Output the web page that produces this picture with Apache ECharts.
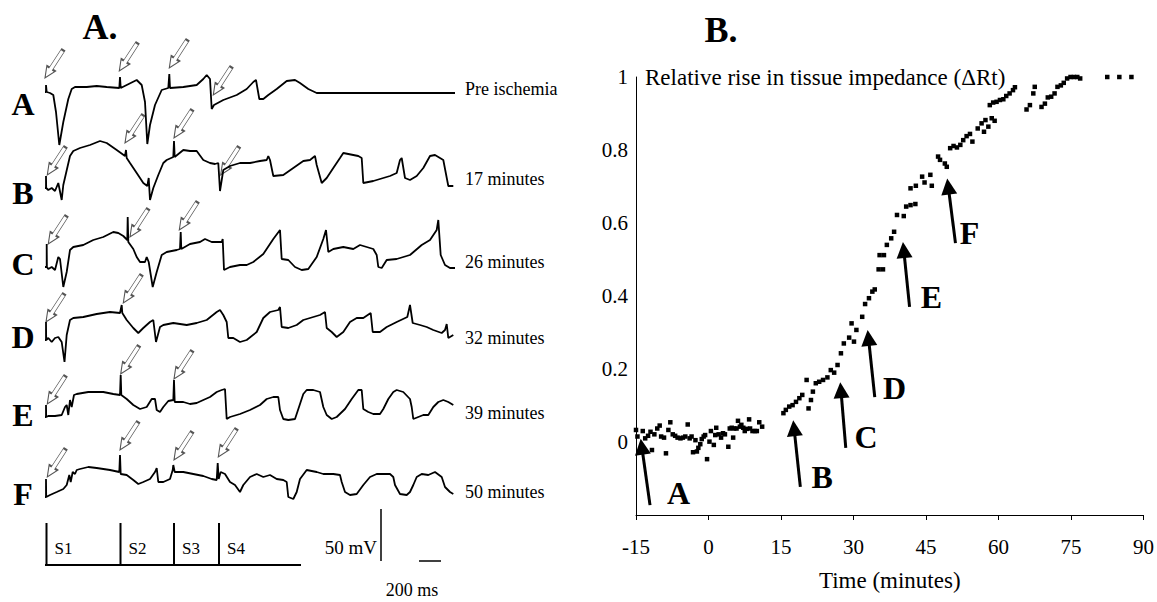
<!DOCTYPE html>
<html>
<head>
<meta charset="utf-8">
<script src="https://cdn.jsdelivr.net/npm/echarts@6.0.0/dist/echarts.min.js"></script>
<style>
  html, body { margin: 0; background: #fff; }
  #chart { width: 1157px; height: 602px; }
</style>
</head>
<body>
<div id="chart"></div>
<script>
// ---- Panel A: electrograms, [ms, mV] relative to each trace's baseline ----
const traceA = [[50,0],[60,0],[60,7],[67,0],[100,-1],[133,-3],[160,-20],[193,-53],[233,-30],[283,-7],[317,3],[350,5],[467,5],[567,6],[667,5],[793,4],[800,15],[807,4],[867,7],[967,12],[1017,7],[1050,-10],[1073,-52],[1100,-33],[1150,-13],[1217,2],[1283,4],[1293,18],[1300,4],[1433,5],[1567,7],[1633,13],[1667,17],[1700,13],[1717,-17],[1740,-13],[1833,-8],[1967,-3],[2067,3],[2133,10],[2160,12],[2193,-7],[2233,-7],[2283,-3],[2367,3],[2467,11],[2550,12],[2600,9],[2683,3],[2767,-1],[4150,-1]];
const traceB = [[50,0],[60,0],[60,12],[62,0],[83,-2],[117,0],[150,-3],[183,5],[217,-12],[233,3],[300,32],[333,37],[400,40],[500,43],[600,47],[667,45],[767,38],[850,32],[860,38],[867,30],[900,25],[967,15],[1033,5],[1073,2],[1087,10],[1100,-12],[1133,0],[1183,13],[1233,25],[1267,28],[1333,31],[1340,47],[1347,31],[1433,38],[1500,37],[1567,37],[1633,28],[1700,25],[1750,24],[1783,25],[1800,-3],[1833,18],[1900,22],[2000,25],[2100,25],[2200,27],[2267,28],[2283,32],[2300,28],[2333,12],[2433,13],[2533,20],[2633,27],[2700,28],[2750,32],[2767,23],[2817,5],[2867,10],[2933,20],[3000,30],[3033,35],[3183,32],[3217,30],[3233,5],[3333,7],[3433,10],[3500,12],[3567,15],[3600,28],[3617,30],[3650,10],[3700,8],[3767,12],[3833,20],[3900,32],[3950,33],[4033,28],[4083,2],[4133,2]];
const traceC = [[50,0],[67,0],[67,23],[69,0],[83,-2],[117,0],[150,-3],[183,10],[200,8],[233,-20],[267,-5],[300,17],[333,20],[433,22],[533,27],[633,30],[733,35],[783,34],[833,31],[873,27],[877,50],[883,25],[933,18],[967,10],[1000,5],[1050,5],[1067,10],[1087,5],[1127,-20],[1167,-5],[1217,12],[1267,15],[1367,17],[1400,18],[1407,35],[1413,18],[1500,23],[1600,25],[1650,28],[1717,25],[1817,25],[1827,28],[1840,-3],[1900,0],[2000,2],[2067,2],[2133,5],[2233,13],[2333,28],[2400,37],[2417,8],[2483,7],[2550,0],[2617,-3],[2683,-2],[2767,10],[2833,28],[2860,37],[2883,15],[2933,18],[3033,20],[3133,18],[3200,22],[3267,20],[3333,18],[3367,12],[3383,0],[3417,-1],[3467,7],[3567,8],[3700,12],[3817,22],[3900,27],[3967,37],[3983,47],[4007,12],[4050,2],[4100,-1],[4150,-1]];
const traceD = [[50,0],[60,0],[60,18],[62,0],[83,2],[117,-2],[150,2],[183,3],[217,-2],[245,-22],[267,5],[300,20],[333,22],[433,23],[567,26],[700,28],[800,27],[817,35],[823,27],[867,20],[933,12],[983,7],[1033,12],[1100,18],[1133,20],[1160,-2],[1200,13],[1233,15],[1333,17],[1467,15],[1567,17],[1667,20],[1767,28],[1800,30],[1833,25],[1867,18],[1883,2],[1933,2],[2000,-2],[2067,0],[2167,8],[2233,22],[2300,28],[2383,30],[2400,33],[2417,13],[2483,12],[2567,15],[2633,20],[2733,23],[2800,25],[2850,28],[2867,12],[2917,8],[2967,3],[3033,8],[3100,18],[3167,22],[3233,22],[3307,27],[3327,8],[3400,8],[3467,13],[3567,18],[3673,23],[3700,35],[3727,17],[3800,15],[3867,13],[3933,10],[4017,7],[4050,10],[4067,16],[4083,2],[4133,5]];
const traceE = [[50,0],[60,0],[60,12],[62,0],[83,1],[150,1],[217,2],[250,10],[267,12],[283,2],[300,17],[317,10],[340,22],[367,23],[483,25],[633,25],[733,23],[800,22],[807,42],[813,22],[867,18],[933,12],[1000,8],[1067,10],[1117,18],[1150,18],[1167,7],[1200,5],[1233,10],[1283,16],[1333,17],[1340,37],[1347,15],[1433,15],[1500,13],[1567,14],[1633,17],[1700,20],[1767,25],[1817,27],[1850,28],[1867,-2],[1900,0],[2000,3],[2100,7],[2200,12],[2267,18],[2333,20],[2383,20],[2400,7],[2433,-2],[2483,-3],[2550,-2],[2600,13],[2633,23],[2667,27],[2733,27],[2800,25],[2833,10],[2867,2],[2917,-2],[2967,0],[3050,8],[3117,18],[3183,27],[3217,27],[3233,8],[3283,5],[3333,3],[3400,3],[3433,8],[3483,18],[3533,25],[3567,27],[3633,25],[3700,18],[3717,10],[3733,-2],[3783,0],[3833,2],[3883,2],[3933,10],[3983,15],[4033,17],[4083,15],[4133,12]];
const traceF = [[50,0],[60,0],[60,18],[62,0],[100,2],[167,5],[233,8],[267,12],[293,22],[307,15],[327,25],[350,23],[367,27],[400,28],[483,30],[567,29],[700,27],[793,25],[800,42],[807,23],[867,22],[933,17],[983,13],[1033,15],[1100,18],[1150,25],[1167,29],[1183,15],[1233,15],[1300,18],[1327,27],[1333,32],[1347,25],[1433,25],[1533,23],[1633,21],[1717,18],[1767,17],[1777,34],[1787,18],[1807,25],[1850,23],[1900,15],[1950,12],[2000,5],[2033,12],[2100,20],[2167,23],[2233,20],[2300,22],[2367,18],[2433,17],[2467,15],[2483,0],[2533,-2],[2567,5],[2600,18],[2667,27],[2767,25],[2833,23],[2933,23],[3000,22],[3017,15],[3050,5],[3100,2],[3167,3],[3233,12],[3300,20],[3367,23],[3433,23],[3500,23],[3533,20],[3550,12],[3600,3],[3667,2],[3700,5],[3733,12],[3767,20],[3817,23],[3883,22],[3950,25],[4017,20],[4050,10],[4100,5],[4133,3]];

// open arrows marking stimulus artefacts (tip position, [ms, mV])
const arrowsA = [[50,14],[793,21],[1293,24],[1733,-3]];
const arrowsB = [[73,13],[850,45],[1340,50],[1807,13]];
const arrowsC = [[83,23],[900,30],[1393,37]];
const arrowsD = [[60,18],[833,37]];
const arrowsE = [[73,13],[807,43],[1340,38]];
const arrowsF = [[73,20],[800,47],[1340,37],[1783,40]];

const traceLetters = ['A', 'B', 'C', 'D', 'E', 'F'];
const traceTimes = ['Pre ischemia', '17 minutes', '26 minutes', '32 minutes', '39 minutes', '50 minutes'];

// stimulus channel
const stimTimes = [65, 805, 1340, 1790];
const stimLabels = ['S1', 'S2', 'S3', 'S4'];
const stimHeight = 42;
const stimStart = 50;
const stimEnd = 2610;

// ---- Panel B: relative rise in tissue impedance ----
const timeMin = [-15.0,-14.7,-13.6,-13.1,-12.5,-12.0,-11.7,-11.2,-10.6,-10.1,-9.8,-9.2,-8.8,-8.3,-7.9,-7.4,-6.9,-6.4,-5.8,-5.3,-4.8,-4.3,-3.9,-3.5,-3.2,-2.7,-2.4,-2.1,-1.7,-1.4,-1.0,-0.7,-0.3,0.2,0.5,1.1,1.4,1.6,2.1,2.6,3.0,3.4,4.1,4.4,4.8,5.1,5.3,5.8,6.1,6.5,6.8,7.2,7.5,7.9,8.4,8.6,9.1,9.6,10.0,10.5,11.1,
  15.5,16.0,16.7,17.4,18.1,18.8,19.4,20.3,20.7,21.2,21.6,22.2,22.9,23.7,24.6,25.3,26.0,26.7,27.4,28.0,29.1,30.1,29.6,30.6,31.8,32.4,33.2,33.9,34.4,35.2,36.1,35.4,36.3,36.9,37.8,38.4,39.0,40.4,40.9,41.8,42.8,
  41.8,42.9,44.2,44.7,45.9,46.2,47.5,47.9,48.9,49.3,50.0,50.7,51.4,52.1,52.7,53.4,54.1,54.6,55.7,56.5,57.0,57.3,57.9,58.6,59.2,58.2,58.9,59.6,60.3,61.0,61.6,62.3,63.0,63.4,
  65.8,66.5,67.2,67.5,68.9,69.6,70.2,70.9,71.6,72.2,72.9,73.5,74.2,74.9,75.6,76.3,76.9,82.5,85.0,87.5];
const deltaRt = [0.033,0.015,0.030,0.010,0.017,0.028,-0.022,0.021,0.037,0.045,0.015,0.012,-0.031,0.033,0.054,0.021,0.017,0.012,0.010,0.012,0.015,0.048,0.010,0.015,-0.028,0.005,-0.026,-0.016,-0.006,0.008,0.015,0.019,-0.047,0.001,0.030,-0.008,0.019,0.039,0.021,0.012,0.024,0.021,-0.013,0.037,0.039,0.012,0.037,0.037,0.058,0.042,0.047,0.039,0.030,0.036,0.062,0.037,0.030,0.030,0.030,0.054,0.042,
  0.079,0.088,0.097,0.101,0.110,0.120,0.129,0.170,0.092,0.115,0.138,0.161,0.165,0.170,0.177,0.197,0.190,0.211,0.243,0.270,0.286,0.275,0.325,0.307,0.343,0.378,0.394,0.412,0.418,0.473,0.473,0.512,0.512,0.540,0.558,0.576,0.622,0.619,0.645,0.649,0.652,
  0.695,0.702,0.727,0.711,0.732,0.702,0.782,0.773,0.763,0.754,0.805,0.811,0.807,0.814,0.827,0.838,0.844,0.823,0.859,0.873,0.850,0.882,0.864,0.887,0.880,0.923,0.930,0.932,0.937,0.939,0.948,0.955,0.964,0.972,
  0.911,0.923,0.955,0.973,0.918,0.927,0.944,0.946,0.955,0.973,0.977,0.984,0.996,1.0,1.0,1.0,0.996,1.0,1.0,1.0];

// solid arrows with letters (time, value)
const arrowNames = ['A', 'B', 'C', 'D', 'E', 'F'];
const arrowTips = [[-13.8,-0.013],[17.7,0.038],[27.4,0.142],[33.1,0.285],[40.4,0.526],[49.6,0.70]];
const arrowTails = [[-12.1,-0.173],[19.0,-0.123],[28.4,-0.016],[34.4,0.123],[41.6,0.37],[51.1,0.545]];
const arrowLabelAt = [[-6.2,-0.14],[23.5,-0.096],[32.6,0.014],[38.5,0.148],[46.1,0.397],[54.0,0.573]];

// ---- layout ----
const SERIF = '"Liberation Serif", "Times New Roman", serif';
const traces = [traceA, traceB, traceC, traceD, traceE, traceF];
const traceArrows = [arrowsA, arrowsB, arrowsC, arrowsD, arrowsE, arrowsF];
const baselinePx = [92, 188, 267, 340, 417, 497];
const letterY = [104, 193, 264, 337, 415, 494];
const timeLabelY = [89, 179, 262, 338, 413, 492];
const STIM = 6, PANEL_B = 7;

const openArrow = 'path://M3,0 L7,0 L7,22 L10,22 L5,33 L0,22 L3,22 Z';

const grids = [], xAxes = [], yAxes = [], series = [];
traces.forEach((tr, i) => {
  grids.push({ left: 40, width: 420, top: baselinePx[i] - 60, height: 120 });
  xAxes.push({ type: 'value', gridIndex: i, min: 0, max: 4200, show: false });
  yAxes.push({ type: 'value', gridIndex: i, min: -60, max: 60, show: false });
  series.push({
    type: 'line', xAxisIndex: i, yAxisIndex: i, data: tr, showSymbol: false,
    clip: false, lineStyle: { color: '#000', width: 1.8 }, silent: true
  });
  series.push({
    type: 'scatter', xAxisIndex: i, yAxisIndex: i, data: traceArrows[i],
    symbol: openArrow, symbolSize: [10, 33], symbolRotate: -33, symbolOffset: [9, -14],
    clip: false, silent: true,
    itemStyle: { color: '#fff', borderColor: '#555', borderWidth: 1.2, opacity: 1 }
  });
});

// stimulus channel
grids.push({ left: 40, width: 420, top: 500, height: 70 });
xAxes.push({ type: 'value', gridIndex: STIM, min: 0, max: 4200, show: false });
yAxes.push({ type: 'value', gridIndex: STIM, min: -5, max: 65, show: false });
const stimLine = [[stimStart, 0]];
stimTimes.forEach(s => stimLine.push([s, 0], [s, stimHeight], [s, 0]));
stimLine.push([stimEnd, 0]);
series.push({
  type: 'line', xAxisIndex: STIM, yAxisIndex: STIM, data: stimLine, showSymbol: false,
  clip: false, silent: true, lineStyle: { color: '#000', width: 2 },
  markLine: {
    silent: true, symbol: 'none', animation: false, label: { show: false },
    lineStyle: { color: '#000', width: 1.5, type: 'solid' },
    data: [
      [{ coord: [3410, 4] }, { coord: [3410, 56] }],
      [{ coord: [3790, 4] }, { coord: [4010, 4] }]
    ]
  }
});
series.push({
  type: 'scatter', xAxisIndex: STIM, yAxisIndex: STIM,
  data: stimTimes.map(s => [s, 17]), symbolSize: 0, silent: true,
  itemStyle: { opacity: 1 },
  label: {
    show: true, position: 'right', distance: 8, color: '#000',
    fontFamily: SERIF, fontSize: 17, formatter: p => stimLabels[p.dataIndex]
  }
});

// panel B
grids.push({ left: 636, top: 77, width: 510, height: 438 });
xAxes.push({
  type: 'value', gridIndex: PANEL_B, min: -15, max: 90, interval: 15,
  axisLine: { onZero: false, lineStyle: { color: '#000', width: 1 } },
  axisTick: { show: true, length: 5, lineStyle: { color: '#000' } },
  axisLabel: { color: '#000', fontFamily: SERIF, fontSize: 21, margin: 21 },
  splitLine: { show: false },
  name: 'Time (minutes)', nameLocation: 'middle', nameGap: 54,
  nameTextStyle: { color: '#000', fontFamily: SERIF, fontSize: 23 }
});
yAxes.push({
  type: 'value', gridIndex: PANEL_B, min: -0.2, max: 1, interval: 0.2,
  axisLine: { show: true, onZero: false, lineStyle: { color: '#000', width: 1 } },
  axisTick: { show: false },
  axisLabel: {
    color: '#000', fontFamily: SERIF, fontSize: 21, margin: 8,
    formatter: v => (v < -0.1 ? '' : String(Math.round(v * 10) / 10))
  },
  splitLine: { show: false }
});
series.push({
  type: 'scatter', xAxisIndex: PANEL_B, yAxisIndex: PANEL_B,
  data: timeMin.map((t, i) => [t, deltaRt[i]]),
  symbol: 'rect', symbolSize: 4.5, clip: false, silent: true,
  itemStyle: { color: '#000', opacity: 1 }
});
series.push({
  type: 'scatter', xAxisIndex: PANEL_B, yAxisIndex: PANEL_B,
  data: arrowLabelAt, symbolSize: 0, silent: true,
  itemStyle: { opacity: 1 },
  label: {
    show: true, position: 'inside', color: '#000', fontFamily: SERIF, textBorderWidth: 0,
    fontSize: 32, fontWeight: 'bold', formatter: p => arrowNames[p.dataIndex]
  },
  markLine: {
    silent: true, animation: false, symbol: ['none', 'triangle'], symbolSize: 16,
    label: { show: false },
    lineStyle: { color: '#000', width: 3, type: 'solid', opacity: 1 },
    data: arrowTips.map((tip, i) => [{ coord: arrowTails[i] }, { coord: tip }])
  }
});

const texts = [
  { x: 100, y: 27, text: 'A.', font: 'bold 36px ' + SERIF, align: 'center' },
  { x: 721, y: 30, text: 'B.', font: 'bold 36px ' + SERIF, align: 'center' },
  { x: 645, y: 77, text: 'Relative rise in tissue impedance (\u0394Rt)', font: '23px ' + SERIF, align: 'left' },
  { x: 377, y: 547, text: '50 mV', font: '19px ' + SERIF, align: 'right' },
  { x: 412, y: 590, text: '200 ms', font: '18px ' + SERIF, align: 'center' }
];
traceLetters.forEach((l, i) => texts.push({ x: 23, y: letterY[i], text: l, font: 'bold 32px ' + SERIF, align: 'center' }));
traceTimes.forEach((t, i) => texts.push({ x: 465, y: timeLabelY[i], text: t, font: '18px ' + SERIF, align: 'left' }));

const chart = echarts.init(document.getElementById('chart'), null, { renderer: 'svg' });
chart.setOption({
  backgroundColor: '#fff',
  animation: false,
  grid: grids,
  xAxis: xAxes,
  yAxis: yAxes,
  series: series,
  graphic: texts.map(t => ({
    type: 'text', x: t.x, y: t.y, silent: true,
    style: {
      text: t.text, font: t.font, fill: '#000',
      align: t.align, textAlign: t.align, verticalAlign: 'middle', textVerticalAlign: 'middle'
    }
  }))
});
</script>
</body>
</html>
